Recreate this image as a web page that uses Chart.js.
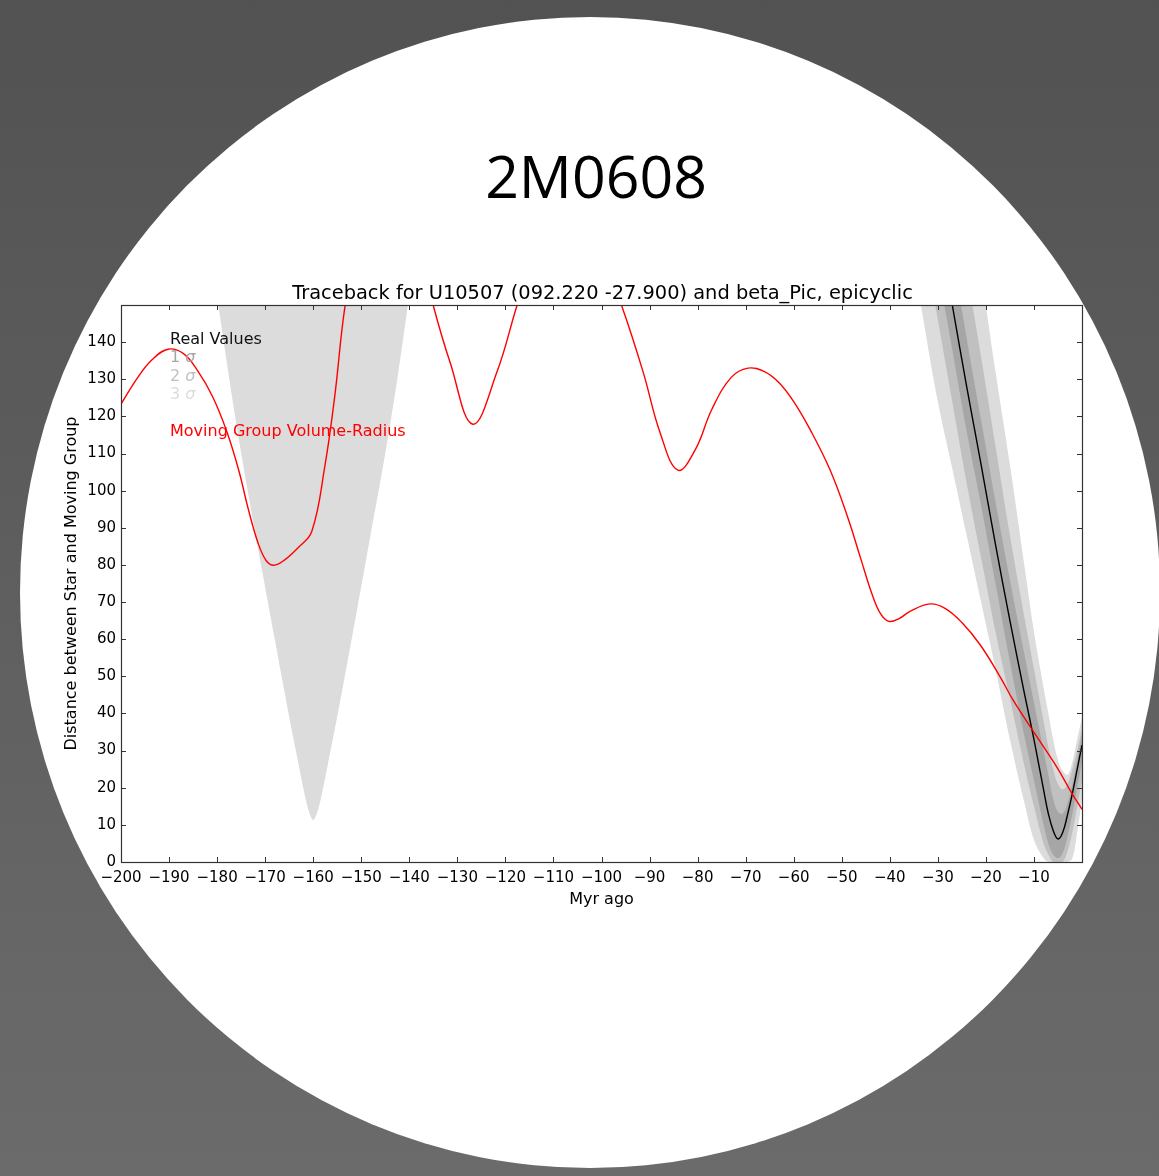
<!DOCTYPE html>
<html>
<head>
<meta charset="utf-8">
<title>2M0608 traceback</title>
<script src="https://cdn.jsdelivr.net/npm/chart.js@4.4.1/dist/chart.umd.min.js"></script>
<style>
  html, body { margin: 0; padding: 0; }
  body {
    width: 1159px; height: 1176px; overflow: hidden; position: relative;
    background: linear-gradient(#525252, #6b6b6b);
  }
  #disc {
    position: absolute; left: 20px; top: 17px; width: 1140px; height: 1151px;
    border-radius: 50%; background: #fff;
  }
  #name {
    position: absolute; left: 0; top: 146px; width: 1192px; text-align: center;
    font: 59px/59px "Open Sans", sans-serif; color: #000;
  }
  #traceback { position: absolute; left: 0; top: 0; }
</style>
</head>
<body>
<div id="disc"></div>
<div id="name">2M0608</div>
<canvas id="traceback" width="1159" height="1176"></canvas>
<script>
// Moving group volume-radius (red)
const radiusAge = [-200, -196.5, -193.5, -190.2, -187, -184, -181, -178, -175.5, -173.5, -171.5, -169.8, -168.2, -166,
  -163.1, -160.3, -157.6, -155.5, -153.4, -150, -146, -142, -138, -135, -131.5, -126.8, -121.8, -117.6, -113, -108,
  -103, -99, -95.8, -91.3, -87.8, -84.1, -80.5, -77, -73, -69.5, -66, -63, -60, -56.6, -52.4, -48.8, -46, -43.8,
  -42, -40.2, -38, -35.8, -31.6, -28.5, -25, -21.2, -17.1, -14.3, -10.3, -5.3, -2.1, 0];
const radiusDist = [123.3, 130.5, 135.3, 138.1, 136.9, 132.2, 125.5, 116, 105.5, 95, 86, 81.2, 79.9, 81.3,
  84.7, 89.0, 106.4, 125.6, 149.5, 174, 188, 186, 166, 149.8, 134.5, 117.9, 131.8, 149.8, 168, 178,
  174, 160, 149.8, 131.8, 115.6, 105.5, 111, 122, 130.5, 133, 132, 129, 124, 116.5, 105.5, 93, 81.5, 72.5,
  67, 64.8, 65.6, 67.5, 69.5, 68.3, 64.5, 58.5, 50, 43.5, 35.5, 25.7, 18.5, 14.2];

// Star - group separation (black) and its sigma envelopes, sampled on the same ages
const realAge = [-36, -33, -30, -27, -24, -21, -18, -15, -12, -10, -8, -7, -6, -5, -4, -3, -2, -1, 0];
const realDist = [218, 195, 172, 150, 128, 107, 85.5, 65, 45.5, 33, 19.5, 13, 8.5, 6.2, 8, 12.8, 18.5, 25, 31.5];
const sigma1Hi = [232, 209, 186, 164, 141, 119, 97, 76, 56, 43, 30, 23.5, 17, 13.5, 13, 16, 21, 27.5, 34];
const sigma1Lo = [206, 183, 160, 138, 116, 96, 75, 54, 34, 22, 10, 5, 2, 1, 2.5, 7, 13, 20, 27];
const sigma2Hi = [248, 226, 203, 181, 159, 136, 112, 88, 66, 52, 38, 31, 25, 21, 19.5, 21, 25, 30, 36];
const sigma2Lo = [190, 168, 146, 124, 102, 82, 62, 44, 26, 15, 5, 2, 0, 0, 0, 3, 8, 15, 22];
const sigma3Hi = [275, 252, 228, 205, 180, 158, 132, 107, 80, 62, 47, 40, 33, 27.5, 24.5, 23.5, 27, 33, 39];
const sigma3Lo = [170, 146, 124, 106, 88, 70, 52, 33, 16, 6, 1, 0, 0, 0, 0, 0, 1, 8, 17];

// Earlier close pass: only the 3 sigma lower edge dips into view
const passAge = [-182, -179.7, -176.5, -173.5, -170.5, -168, -166, -164, -163, -162, -161, -160,
  -159, -158, -157, -156, -154, -151, -148, -145, -142.5, -140.3, -138];
const passLo = [170, 149.5, 122, 99, 77.5, 60, 46, 32.5, 26, 19.5, 14, 11.3,
  14, 19.5, 26, 32.5, 46, 67, 88.5, 110, 130, 150, 172];

const xTicks = [-200, -190, -180, -170, -160, -150, -140, -130, -120, -110, -100, -90, -80, -70, -60, -50, -40, -30, -20, -10];
const yTicks = [0, 10, 20, 30, 40, 50, 60, 70, 80, 90, 100, 110, 120, 130, 140];

const pts = (xs, ys) => xs.map((x, i) => ({ x: x, y: ys[i] }));
const minus = v => (v < 0 ? '\u2212' + Math.abs(v) : String(v));

function edge(data, color, fill) {
  return {
    data: data, borderWidth: 0, pointRadius: 0, borderColor: 'rgba(0,0,0,0)',
    backgroundColor: color, fill: fill
  };
}

// frame, inward ticks, title and text labels in the axes
const axesDecor = {
  id: 'axesDecor',
  afterDatasetsDraw(chart) {
    const { ctx, chartArea: a, scales: { x, y } } = chart;
    ctx.save();
    ctx.strokeStyle = '#333';
    ctx.lineWidth = 1;
    ctx.beginPath();
    xTicks.forEach(v => {
      const px = Math.round(x.getPixelForValue(v)) + 0.5;
      ctx.moveTo(px, a.bottom); ctx.lineTo(px, a.bottom - 5);
      ctx.moveTo(px, a.top); ctx.lineTo(px, a.top + 5);
    });
    yTicks.forEach(v => {
      const py = Math.round(y.getPixelForValue(v)) + 0.5;
      ctx.moveTo(a.left, py); ctx.lineTo(a.left + 5, py);
      ctx.moveTo(a.right, py); ctx.lineTo(a.right - 5, py);
    });
    ctx.stroke();
    ctx.lineWidth = 1.2;
    ctx.strokeRect(a.left + 0.5, a.top + 0.5, a.right - a.left, a.bottom - a.top);

    ctx.fillStyle = '#000';
    ctx.textAlign = 'center';
    ctx.textBaseline = 'alphabetic';
    ctx.font = '19.4px "DejaVu Sans"';
    ctx.fillText('Traceback for U10507 (092.220 -27.900) and beta_Pic, epicyclic', (a.left + a.right) / 2 + 1, a.top - 6);

    ctx.textAlign = 'left';
    const lx = a.left + 49;
    const row = i => a.top + 39 + i * 18.3;
    ctx.font = '16px "DejaVu Sans"';
    ctx.fillStyle = '#111';
    ctx.fillText('Real Values', lx, row(0));
    [['1', '#a6a6a6'], ['2', '#c0c0c0'], ['3', '#dcdcdc']].forEach(([n, c], i) => {
      ctx.fillStyle = c;
      ctx.font = '16px "DejaVu Sans"';
      ctx.fillText(n + ' ', lx, row(i + 1));
      const w = ctx.measureText(n + ' ').width;
      ctx.font = 'italic 16px "DejaVu Sans"';
      ctx.fillText('\u03c3', lx + w, row(i + 1));
    });
    ctx.font = '16px "DejaVu Sans"';
    ctx.fillStyle = '#ff0000';
    ctx.fillText('Moving Group Volume-Radius', lx, row(5));
    ctx.restore();
  }
};

new Chart(document.getElementById('traceback'), {
  type: 'line',
  data: {
    datasets: [
      { data: pts(radiusAge, radiusDist), borderColor: '#ff0000', borderWidth: 1.4, pointRadius: 0, fill: false },
      { data: pts(realAge, realDist), borderColor: '#000', borderWidth: 1.4, pointRadius: 0, fill: false },
      edge(pts(realAge, sigma1Hi), '#a6a6a6', '+1'),
      edge(pts(realAge, sigma1Lo), '#a6a6a6', false),
      edge(pts(realAge, sigma2Hi), '#c0c0c0', '+1'),
      edge(pts(realAge, sigma2Lo), '#c0c0c0', false),
      edge(pts(realAge, sigma3Hi), '#dcdcdc', '+1'),
      edge(pts(realAge, sigma3Lo), '#dcdcdc', false),
      Object.assign(edge(pts(passAge, passLo), '#dcdcdc', 'end'), { tension: 0.3 })
    ]
  },
  options: {
    responsive: false,
    animation: false,
    events: [],
    elements: { line: { tension: 0.4, capBezierPoints: false } },
    layout: { padding: { top: 305, right: 77, bottom: 262.4, left: 58.4 } },
    plugins: { legend: { display: false }, tooltip: { enabled: false }, title: { display: false } },
    scales: {
      x: {
        type: 'linear', min: -200, max: 0,
        grid: { display: false, drawTicks: false },
        border: { display: false },
        ticks: {
          stepSize: 10, autoSkip: false, maxRotation: 0, padding: 7, color: '#000',
          font: { family: 'DejaVu Sans', size: 15 },
          callback: v => (v === 0 ? '' : minus(v))
        },
        title: { display: true, text: 'Myr ago', color: '#000', font: { family: 'DejaVu Sans', size: 16 },
          padding: { top: 4, bottom: 4 } },
        afterFit: s => { s.height = 51.6; }
      },
      y: {
        type: 'linear', min: 0, max: 150,
        grid: { display: false, drawTicks: false },
        border: { display: false },
        ticks: {
          stepSize: 10, includeBounds: false, padding: 5, color: '#000',
          font: { family: 'DejaVu Sans', size: 15 },
          callback: v => (v >= 150 ? '' : minus(v))
        },
        title: { display: true, text: 'Distance between Star and Moving Group', color: '#000',
          font: { family: 'DejaVu Sans', size: 16 }, padding: { top: 4, bottom: 4 } },
        afterFit: s => { s.width = 62.6; }
      }
    }
  },
  plugins: [axesDecor]
});
</script>
</body>
</html>
